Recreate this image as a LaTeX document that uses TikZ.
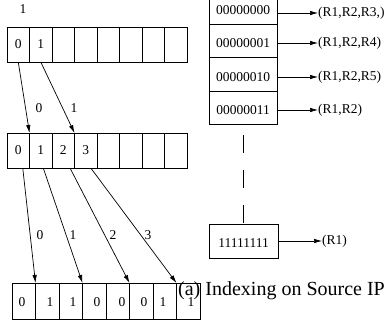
\documentclass[tikz,border=0pt]{standalone}
\usepackage{fontspec}
\setmainfont{Liberation Serif}
\usetikzlibrary{arrows.meta}
\begin{document}
\begin{tikzpicture}[x=1pt,y=-1pt,
  txt/.style={font=\fontsize{13.5}{16}\selectfont,inner sep=0pt},
  cell/.style={txt,draw,line width=0.8pt,minimum width=22.5pt,minimum height=35pt,outer sep=0pt,anchor=north west},
  bcell/.style={draw,line width=0.8pt,minimum width=23.5pt,minimum height=36pt,inner sep=0pt,outer sep=0pt,anchor=north west},
  row/.style={txt,draw,line width=0.9pt,minimum width=68pt,minimum height=33.5pt,outer sep=0pt,anchor=north west,text height=14pt,text depth=0pt},
  arr/.style={line width=0.7pt,-{Latex[length=8pt,width=4.5pt]}},
  lab/.style={txt,anchor=west}]
\useasboundingbox (0,0) rectangle (391,324);
% top label
\node[txt] (toplab) at (23,9) {1};
% top array
\node[cell] (t0) at (7,27) {0};
\node[cell] (t1) at (29.5,27) {1};
\node[cell] (t2) at (52,27) {};
\node[cell] (t3) at (74.5,27) {};
\node[cell] (t4) at (97,27) {};
\node[cell] (t5) at (119.5,27) {};
\node[cell] (t6) at (142,27) {};
\node[cell] (t7) at (164.5,27) {};
% middle array
\node[cell] (m0) at (7,133) {0};
\node[cell] (m1) at (29.5,133) {1};
\node[cell] (m2) at (52,133) {2};
\node[cell] (m3) at (74.5,133) {3};
\node[cell] (m4) at (97,133) {};
\node[cell] (m5) at (119.5,133) {};
\node[cell] (m6) at (142,133) {};
\node[cell] (m7) at (164.5,133) {};
% bottom array
\node[bcell] (b0) at (12,283) {};
\node[bcell] (b1) at (35.5,283) {};
\node[bcell] (b2) at (59,283) {};
\node[bcell] (b3) at (82.5,283) {};
\node[bcell] (b4) at (106,283) {};
\node[bcell] (b5) at (129.5,283) {};
\node[bcell] (b6) at (153,283) {};
\node[bcell] (b7) at (176.5,283) {};
\node[txt] (d0) at (22,302) {0};
\node[txt] (d1) at (50,302) {1};
\node[txt] (d2) at (73,302) {1};
\node[txt] (d3) at (97,302) {0};
\node[txt] (d4) at (122,302) {0};
\node[txt] (d5) at (144,302) {0};
\node[txt] (d6) at (163,302) {1};
\node[txt] (d7) at (191,302) {1};
% arrows top -> middle
\draw[arr] (t0.south) -- (m0.north east);
\draw[arr] (t1.south) -- (m2.north east);
\node[txt] (l0) at (39,108) {0};
\node[txt] (l1) at (74,108) {1};
% arrows middle -> bottom
\draw[arr] ([xshift=4.5pt]m0.south) -- (b0.north east);
\draw[arr] ([xshift=2.5pt]m1.south) -- (b2.north east);
\draw[arr] ([xshift=6.75pt]m2.south) -- (b4.north east);
\draw[arr] ([xshift=5pt]m3.south) -- (b6.north east);
\node[txt] (k0) at (40,235) {0};
\node[txt] (k1) at (73,235) {1};
\node[txt] (k2) at (113,235) {2};
\node[txt] (k3) at (148,235) {3};
% caption
\node[inner sep=0pt,anchor=base west,font=\fontsize{20}{24}\selectfont] (cap) at (178,295) {(a) Indexing on Source IP};
% right table
\node[row] (r0) at (209,-9.5) {00000000};
\node[row] (r1) at (209,24) {00000001};
\node[row] (r2) at (209,57.5) {00000010};
\node[row] (r3) at (209,91) {00000011};
\node[lab] (o0) at (318,13) {(R1,R2,R3,)};
\node[lab] (o1) at (318,43) {(R1,R2,R4)};
\node[lab] (o2) at (318,77) {(R1,R2,R5)};
\node[lab] (o3) at (318,110) {(R1,R2)};
\draw[arr] (r0.east |- o0.west) -- (o0.west);
\draw[arr] (r1.east |- o1.west) -- (o1.west);
\draw[arr] (r2.east |- o2.west) -- (o2.west);
\draw[arr] (r3.east |- o3.west) -- (o3.west);
% bottom entry
\node[row,minimum width=69pt,minimum height=34pt,text height=12pt] (bb) at (209,224) {11111111};
\node[lab] (ob) at (322,241) {(R1)};
\draw[arr] (bb.east |- ob.west) -- (ob.west);
\coordinate (dtop) at (243.5,135);
\draw[line width=1.8pt,dash pattern=on 18pt off 17pt] (dtop) -- (bb.north);
\end{tikzpicture}
\end{document}
